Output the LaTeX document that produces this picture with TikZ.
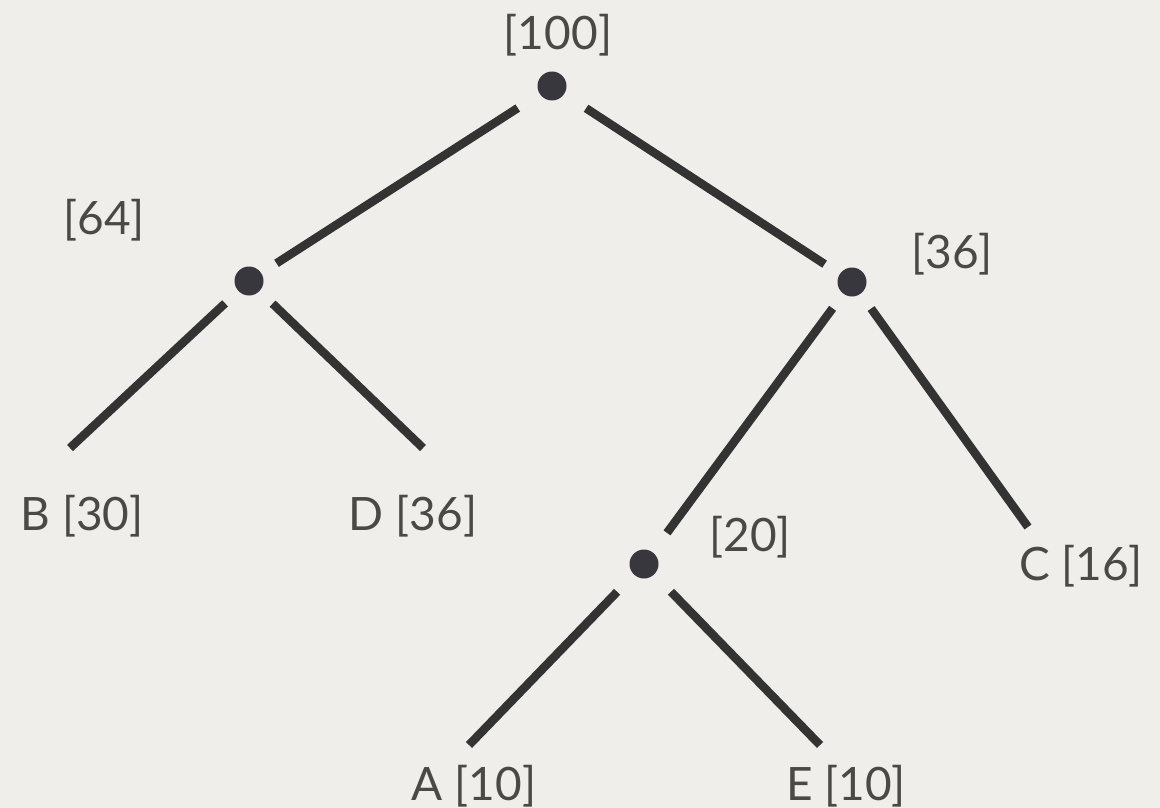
\documentclass[tikz,border=0pt]{standalone}
\usepackage{fontspec}
\setmainfont{Lato}
\definecolor{bg}{HTML}{EFEEEB}
\definecolor{ink}{HTML}{4B4946}
\definecolor{dotc}{HTML}{38373D}
\definecolor{linec}{HTML}{333333}
\begin{document}
\begin{tikzpicture}[x=1pt,y=-1pt,
  dot/.style={circle,fill=dotc,inner sep=0pt,minimum size=29pt},
  lbl/.style={text=ink,inner sep=0pt,font=\fontsize{46}{50}\selectfont},
  edge/.style={draw=linec,line width=8.5pt,line cap=butt},
  gapA/.style={shorten <=18pt},
  gapB/.style={shorten >=18pt},
  gapC/.style={shorten <=24pt},
  gapD/.style={shorten >=24pt},
  gapR/.style={shorten <=26pt}]
\fill[bg] (0,0) rectangle (1160,808);
\useasboundingbox (0,0) rectangle (1160,808);
% internal nodes
\node[dot] (root) at (552,86) {};
\node[dot] (n64) at (249,281) {};
\node[dot] (n36) at (852,282) {};
\node[dot] (n20) at (644,564) {};
% free ends of leaf connectors
\coordinate (eB) at (70,448);
\coordinate (eD) at (423,448);
\coordinate (eC) at (1028,527);
\coordinate (eA) at (469,745);
\coordinate (eE) at (820,745);
% labels
\node[lbl] (l100) at (558,35) {[100]};
\node[lbl] (l64) at (104,220) {[64]};
\node[lbl] (l36) at (952,254) {[36]};
\node[lbl] (l20) at (750,537) {[20]};
\node[lbl] (lB) at (82,516) {B [30]};
\node[lbl] (lD) at (413,516) {D [36]};
\node[lbl] (lC) at (1081,566) {C [16]};
\node[lbl] (lA) at (474,786) {A [10]};
\node[lbl] (lE) at (846,786) {E [10]};
% connectors
\draw[edge,gapR,gapB] (root) -- (n64);
\draw[edge,gapR,gapB] (root) -- (n36);
\draw[edge,gapA] (n64) -- (eB);
\draw[edge,gapA] (n64) -- (eD);
\draw[edge,gapA,gapD] (n36) -- (n20);
\draw[edge,gapA] (n36) -- (eC);
\draw[edge,gapC] (n20) -- (eA);
\draw[edge,gapC] (n20) -- (eE);
\end{tikzpicture}
\end{document}
